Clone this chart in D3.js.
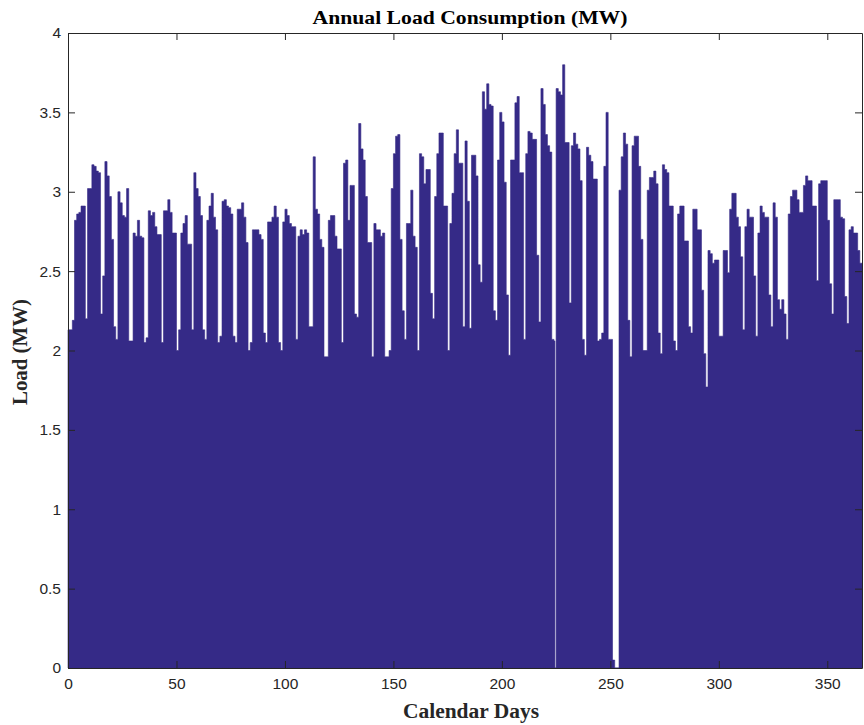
<!DOCTYPE html>
<html>
<head>
<meta charset="utf-8">
<script src="https://cdn.jsdelivr.net/npm/d3@7"></script>
<style>
  body { margin: 0; background: #fff; }
  .tick text { font-family: "Liberation Sans", Arial, sans-serif; font-size: 15.5px; fill: #262626; }
  .domain, .tick line { stroke: #262626; }
  .lbl { font-family: "Liberation Serif", "Times New Roman", serif; font-weight: bold; }
</style>
</head>
<body>
<script>
// daily load (MW), day 0 = Jan 1
const loadMW = [
  2.13, 2.13, 2.19, 2.82, 2.86, 2.87, 2.91, 2.91, 2.20, 3.02,
  3.02, 3.17, 3.16, 3.13, 3.12, 2.23, 2.47, 3.19, 3.10, 2.97,
  2.70, 2.15, 2.07, 3.00, 2.93, 2.85, 2.84, 3.02, 2.06, 2.06,
  2.74, 2.72, 2.82, 2.72, 2.71, 2.05, 2.08, 2.88, 2.85, 2.87,
  2.78, 2.73, 2.73, 2.05, 2.88, 2.88, 2.95, 2.87, 2.74, 2.74,
  2.00, 2.13, 2.74, 2.80, 2.85, 2.67, 2.67, 2.13, 3.12, 3.02,
  2.97, 2.85, 2.13, 2.07, 2.82, 2.91, 2.99, 2.84, 2.76, 2.05,
  2.09, 2.94, 2.95, 2.91, 2.90, 2.86, 2.09, 2.05, 2.89, 2.89,
  2.93, 2.84, 2.68, 2.00, 2.05, 2.76, 2.76, 2.76, 2.73, 2.70,
  2.11, 2.05, 2.81, 2.81, 2.84, 2.91, 2.84, 2.05, 2.00, 2.81,
  2.89, 2.85, 2.80, 2.78, 2.78, 2.07, 2.72, 2.76, 2.73, 2.76,
  2.74, 2.15, 2.15, 3.22, 2.89, 2.86, 2.70, 2.65, 1.96, 1.96,
  2.82, 2.85, 2.85, 2.72, 2.64, 2.64, 2.05, 3.18, 3.20, 2.82,
  3.04, 3.04, 2.23, 2.21, 3.43, 3.27, 3.20, 2.97, 2.68, 2.68,
  1.96, 2.80, 2.76, 2.76, 2.72, 2.74, 1.96, 1.96, 2.00, 3.02,
  3.24, 3.35, 3.36, 2.70, 2.25, 2.07, 2.80, 2.80, 3.01, 2.72,
  2.65, 2.00, 3.24, 3.22, 3.05, 3.14, 3.14, 2.36, 2.20, 2.97,
  3.24, 3.37, 3.37, 2.91, 2.91, 2.00, 2.80, 2.99, 3.24, 3.39,
  3.18, 3.18, 2.15, 3.32, 2.94, 2.14, 3.23, 3.23, 3.10, 2.54,
  2.43, 3.63, 3.52, 3.68, 3.55, 3.54, 2.25, 2.19, 3.20, 3.50,
  3.44, 3.06, 2.35, 1.97, 3.20, 3.20, 3.56, 3.60, 3.12, 3.12,
  2.07, 3.24, 3.38, 3.37, 3.33, 3.33, 2.60, 2.18, 3.65, 3.55,
  3.36, 3.29, 3.25, 2.07, 2.06, 3.65, 3.63, 3.61, 3.80, 3.31,
  3.31, 2.30, 3.29, 3.37, 3.30, 3.27, 3.07, 2.07, 1.97, 3.28,
  3.23, 3.19, 3.08, 3.08, 2.06, 2.07, 2.11, 3.16, 3.50, 2.07,
  2.07, 0.05, 0.00, 0.00, 3.01, 3.22, 3.37, 3.30, 2.19, 1.96,
  3.29, 3.35, 3.35, 3.16, 2.70, 2.00, 2.00, 3.01, 3.09, 3.09,
  3.13, 3.05, 2.11, 1.98, 3.17, 3.14, 3.12, 2.91, 2.91, 2.06,
  2.00, 2.86, 2.91, 2.91, 2.69, 2.69, 2.15, 2.11, 2.89, 2.89,
  2.76, 2.76, 2.38, 1.98, 1.77, 2.63, 2.61, 2.55, 2.57, 2.57,
  2.09, 2.09, 2.63, 2.63, 2.49, 2.89, 2.99, 2.99, 2.84, 2.78,
  2.59, 2.13, 2.78, 2.89, 2.84, 2.84, 2.47, 2.09, 2.74, 2.91,
  2.87, 2.84, 2.84, 2.35, 2.15, 2.93, 2.84, 2.32, 2.26, 2.32,
  2.23, 2.07, 2.86, 2.97, 3.01, 3.01, 2.95, 2.87, 2.87, 3.04,
  3.10, 3.07, 3.07, 2.91, 2.91, 2.44, 3.05, 3.07, 3.07, 3.07,
  2.82, 2.42, 2.23, 2.95, 2.95, 2.95, 2.84, 2.83, 2.34, 2.17,
  2.76, 2.78, 2.74, 2.74, 2.63, 2.55
];
// short outages (start day, end day) where load drops to zero
const outages = [[224.45, 225.0]];

const xTicks = [0, 50, 100, 150, 200, 250, 300, 350];
const yTicks = [0, 0.5, 1, 1.5, 2, 2.5, 3, 3.5, 4];

const width = 864, height = 725;
const margin = {top: 33, right: 2, bottom: 57, left: 68};
const innerW = width - margin.left - margin.right;
const innerH = height - margin.top - margin.bottom;

const svg = d3.select("body").append("svg")
    .attr("width", width)
    .attr("height", height);

const g = svg.append("g")
    .attr("transform", `translate(${margin.left},${margin.top})`);

const x = d3.scaleLinear().domain([0, loadMW.length]).range([0, innerW]);
const y = d3.scaleLinear().domain([0, 4]).range([innerH, 0]);

// build step points, inserting outages
const pts = loadMW.map((v, d) => [d, v]);
outages.forEach(([s, e]) => {
    pts.push([s, 0]);
    pts.push([e, loadMW[Math.floor(e)]]);
});
pts.sort((a, b) => a[0] - b[0]);
pts.push([loadMW.length, loadMW[loadMW.length - 1]]);

const area = d3.area()
    .x(d => x(d[0]))
    .y0(y(0))
    .y1(d => y(d[1]))
    .curve(d3.curveStepAfter);

g.append("path")
    .datum(pts)
    .attr("d", area)
    .attr("fill", "#352a87")
    .attr("stroke", "#352a87")
    .attr("stroke-width", 0.6);

// axes (MATLAB-like box with inward ticks)
g.append("g")
    .attr("transform", `translate(0,${innerH})`)
    .call(d3.axisBottom(x).tickValues(xTicks).tickSizeInner(-7).tickSizeOuter(0).tickPadding(10));

g.append("g")
    .call(d3.axisTop(x).tickValues(xTicks).tickSizeInner(-7).tickSizeOuter(0).tickFormat(""));

g.append("g")
    .call(d3.axisLeft(y).tickValues(yTicks).tickFormat(d3.format("~g"))
        .tickSizeInner(-7).tickSizeOuter(0).tickPadding(7));

g.append("g")
    .attr("transform", `translate(${innerW},0)`)
    .call(d3.axisRight(y).tickValues(yTicks).tickSizeInner(-7).tickSizeOuter(0).tickFormat(""));

g.selectAll(".domain").attr("stroke-width", 1);

// labels
svg.append("text")
    .attr("class", "lbl")
    .attr("x", 470)
    .attr("y", 24)
    .attr("text-anchor", "middle")
    .attr("textLength", 315)
    .attr("lengthAdjust", "spacingAndGlyphs")
    .style("font-size", "19.5px")
    .attr("fill", "#000")
    .text("Annual Load Consumption (MW)");

svg.append("text")
    .attr("class", "lbl")
    .attr("x", 471)
    .attr("y", 718)
    .attr("text-anchor", "middle")
    .attr("textLength", 136)
    .attr("lengthAdjust", "spacingAndGlyphs")
    .style("font-size", "20px")
    .attr("fill", "#262626")
    .text("Calendar Days");

svg.append("text")
    .attr("class", "lbl")
    .attr("transform", "translate(27,352) rotate(-90)")
    .attr("text-anchor", "middle")
    .attr("textLength", 106)
    .attr("lengthAdjust", "spacingAndGlyphs")
    .style("font-size", "20px")
    .attr("fill", "#262626")
    .text("Load (MW)");
</script>
</body>
</html>
